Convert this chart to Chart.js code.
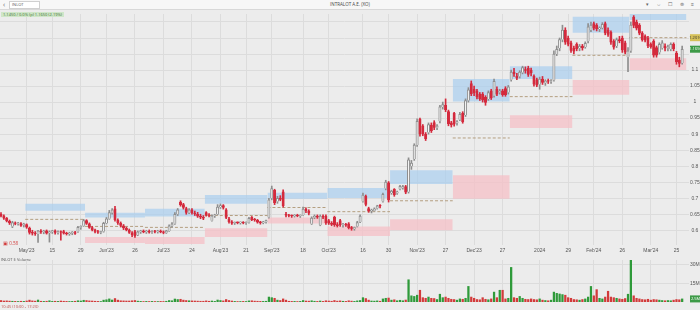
<!DOCTYPE html>
<html>
<head>
<meta charset="utf-8">
<script src="https://cdn.jsdelivr.net/npm/chart.js@4.4.1/dist/chart.umd.min.js"></script>
<style>
	body { margin: 0; background: #ececec; font-family: 'Open Sans', 'Liberation Sans', Arial, sans-serif; }
	#wrap { position: relative; width: 700px; height: 310px; overflow: hidden; background: #ececec; }
	#top { position: absolute; left: 0; top: 0; width: 700px; height: 9px; background: #f7f7f7; border-bottom: 1px solid #d8d8d8; }
	#top .back { position: absolute; left: 3px; top: 0; font-size: 7px; line-height: 9px; color: #666; }
	#top .search { position: absolute; left: 9px; top: 1px; width: 27px; height: 6px; background: #fff; border: 1px solid #d0d0d0; font-size: 4px; line-height: 6px; color: #555; padding-left: 2px; box-sizing: content-box; }
	#top .title { position: absolute; left: 0; width: 700px; top: 0; text-align: center; font-size: 4.5px; line-height: 9px; color: #444; }
	#top .icons { position: absolute; right: 3px; top: 0; font-size: 5px; line-height: 9px; color: #666; letter-spacing: 3px; }
	#info { position: absolute; left: 1px; top: 12px; height: 5px; padding: 0 2px; background: #cfe6c8; font-size: 4px; line-height: 5px; color: #3b6e31; }
	#vlabel { position: absolute; left: 1px; top: 257px; font-size: 4px; line-height: 5px; color: #555; }
	#mark { position: absolute; left: 3px; top: 240px; font-size: 4.5px; line-height: 6px; color: #d23b3b; }
	#foot { position: absolute; left: 1px; top: 304px; font-size: 4px; line-height: 5px; color: #c0504d; }
	canvas { position: absolute; left: 0; }
	#price { top: 10px; }
	#vol { top: 256px; }
</style>
</head>
<body>
<div id="wrap">
	<div id="top">
		<span class="back">&#8249;</span>
		<div class="search">INLOT</div>
		<div class="title">INTRALOT A.E. (XO)</div>
		<div class="icons">&#9662; &#8660; &#9744; &#8860; &#8801;</div>
	</div>
	<canvas id="price" width="700" height="248"></canvas>
	<canvas id="vol" width="700" height="50"></canvas>
	<div id="info">1.1450 / 0.0% (p) 1.1650 (2.19%)</div>
	<div id="mark">&#9635; 0.58</div>
	<div id="vlabel">INLOT &#36; Volume</div>
	<div id="foot">10:45 (10:00 - 17:20)</div>
</div>
<script>
// daily candles, May'23 .. Mar'24
const opens = [
	.650,.645,.637,.628,.612,.623,.620,.621,.616,.618, .607,.594,.590,.588,.597,.594,.598,.592,.595,.598,
	.592,.594,.596,.590,.588,.591,.593,.595,.609,.614, .630,.620,.608,.601,.596,.593,.596,.622,.636,.655,
	.667,.632,.622,.614,.606,.600,.592,.596,.585,.595, .597,.594,.597,.593,.596,.595,.597,.594,.592,.598,
	.614,.620,.650,.688,.680,.668,.655,.664,.654,.650, .644,.640,.655,.647,.630,.645,.650,.672,.677,.664,
	.636,.626,.622,.624,.623,.624,.622,.624,.640,.634, .631,.625,.623,.626,.640,.700,.725,.690,.700,.720,
	.650,.646,.645,.644,.646,.644,.648,.666,.660,.620, .640,.644,.616,.644,.644,.630,.622,.640,.618,.630,
	.616,.618,.620,.607,.605,.612,.626,.690,.706,.668, .660,.662,.668,.676,.690,.730,.748,.716,.728,.716,
	.728,.732,.736,.720,.800,.822,.866,.946,.926,.900, .905,.928,.936,.920,.940,.985,.990,.970,.935,.965,
	.935,.945,.965,.960,1.005,1.058,1.040,1.035,1.025,1.025, 1.015,1.010,1.035,1.020,1.040,1.030,1.035,1.042,1.030,1.070,
	1.094,1.080,1.080,1.092,1.100,1.105,1.100,1.080,1.070,1.055, 1.072,1.060,1.066,1.064,1.068,1.150,1.168,1.195,1.225,1.200,
	1.185,1.168,1.180,1.168,1.175,1.172,1.190,1.225,1.245,1.240, 1.228,1.232,1.245,1.225,1.218,1.190,1.175,1.195,1.200,1.185,
	1.140,1.160,1.265,1.250,1.240,1.215,1.205,1.200,1.180,1.190, 1.170,1.155,1.168,1.175,1.168,1.165,1.180,1.152,1.130,1.122
];
const highs = [
	.655,.648,.640,.632,.628,.626,.625,.624,.622,.620, .610,.600,.596,.600,.602,.600,.601,.598,.600,.601,
	.598,.598,.600,.594,.594,.596,.597,.612,.614,.634, .633,.623,.612,.604,.600,.597,.625,.640,.662,.668,
	.675,.636,.626,.618,.610,.604,.596,.600,.598,.600, .601,.600,.601,.599,.600,.600,.601,.598,.600,.617,
	.624,.655,.668,.692,.684,.672,.668,.668,.660,.656, .650,.646,.658,.652,.648,.650,.680,.682,.680,.668,
	.640,.630,.626,.626,.626,.627,.626,.640,.643,.637, .634,.628,.628,.632,.700,.738,.728,.706,.708,.726,
	.656,.650,.648,.649,.650,.648,.672,.670,.664,.642, .648,.648,.648,.648,.648,.634,.627,.644,.624,.634,
	.622,.622,.624,.612,.610,.628,.648,.716,.710,.672, .666,.670,.678,.680,.716,.756,.752,.725,.730,.722,
	.740,.740,.740,.826,.818,.870,.948,.950,.930,.905, .935,.935,.942,.930,.990,1.000,1.010,.975,.940,.968,
	.942,.968,.970,1.010,1.045,1.066,1.050,1.040,1.030,1.030, 1.020,1.035,1.040,1.072,1.048,1.040,1.040,1.048,1.052,1.100,
	1.105,1.090,1.098,1.112,1.110,1.112,1.106,1.085,1.075,1.078, 1.080,1.070,1.072,1.070,1.160,1.175,1.200,1.240,1.232,1.206,
	1.190,1.175,1.185,1.180,1.180,1.188,1.245,1.250,1.250,1.245, 1.235,1.248,1.250,1.232,1.222,1.195,1.200,1.205,1.206,1.190,
	1.170,1.250,1.270,1.256,1.245,1.220,1.210,1.205,1.185,1.195, 1.175,1.185,1.192,1.182,1.178,1.185,1.185,1.158,1.140,1.175
];
const lows = [
	.642,.634,.626,.618,.608,.617,.616,.612,.610,.606, .588,.585,.584,.562,.590,.589,.588,.563,.590,.588,
	.588,.569,.588,.585,.584,.586,.587,.593,.603,.612, .618,.606,.598,.592,.590,.589,.594,.620,.634,.650,
	.628,.618,.610,.602,.598,.590,.580,.578,.583,.590, .592,.590,.591,.590,.592,.591,.592,.589,.590,.596,
	.610,.618,.646,.675,.666,.650,.652,.650,.646,.640, .636,.633,.644,.642,.628,.640,.648,.668,.666,.636,
	.622,.618,.618,.620,.619,.620,.618,.622,.630,.628, .622,.619,.620,.622,.638,.695,.680,.684,.692,.672,
	.642,.642,.640,.641,.642,.640,.646,.655,.648,.618, .636,.637,.614,.636,.618,.618,.614,.612,.610,.612,
	.610,.612,.604,.600,.600,.610,.624,.688,.676,.656, .654,.660,.666,.670,.688,.726,.688,.712,.706,.712,
	.726,.728,.714,.716,.790,.818,.862,.894,.895,.880, .900,.905,.914,.914,.935,.978,.970,.926,.922,.925,
	.928,.942,.934,.955,1.000,1.020,1.020,1.010,1.005,1.000, .990,1.005,1.008,1.015,1.020,1.025,1.018,1.018,1.025,1.065,
	1.080,1.070,1.075,1.088,1.090,1.080,1.082,1.050,1.048,1.040, 1.055,1.052,1.058,1.058,1.065,1.145,1.160,1.188,1.180,1.175,
	1.155,1.150,1.160,1.160,1.162,1.168,1.185,1.220,1.225,1.222, 1.220,1.228,1.210,1.205,1.180,1.165,1.170,1.185,1.155,1.150,
	1.095,1.155,1.232,1.225,1.210,1.190,1.188,1.170,1.168,1.140, 1.140,1.150,1.165,1.160,1.160,1.160,1.160,1.118,1.110,1.118
];
const closes = [
	.645,.637,.628,.622,.624,.620,.622,.615,.618,.609, .592,.590,.588,.598,.594,.596,.590,.595,.597,.592,
	.594,.593,.590,.588,.590,.593,.589,.609,.612,.630, .620,.608,.601,.596,.593,.594,.622,.636,.655,.664,
	.632,.622,.614,.606,.600,.592,.585,.582,.595,.597, .594,.597,.593,.596,.595,.597,.594,.592,.598,.614,
	.620,.650,.664,.678,.670,.655,.664,.654,.650,.644, .640,.637,.647,.645,.645,.646,.672,.677,.670,.639,
	.626,.621,.624,.623,.624,.622,.624,.637,.632,.631, .625,.623,.626,.630,.695,.730,.685,.700,.696,.676,
	.646,.645,.644,.646,.644,.645,.666,.660,.652,.638, .644,.640,.644,.640,.622,.621,.617,.616,.614,.616,
	.618,.615,.607,.605,.608,.624,.644,.710,.680,.660, .662,.667,.676,.675,.712,.750,.694,.722,.710,.720,
	.737,.736,.718,.820,.810,.866,.940,.900,.900,.885, .930,.910,.920,.926,.985,.992,.975,.932,.928,.930,
	.938,.962,.938,1.005,1.038,1.025,1.028,1.015,1.010,1.006, .998,1.030,1.012,1.065,1.024,1.035,1.022,1.022,1.048,1.094,
	1.088,1.075,1.094,1.108,1.098,1.085,1.090,1.055,1.052,1.072, 1.060,1.066,1.064,1.067,1.150,1.165,1.195,1.225,1.186,1.180,
	1.160,1.158,1.165,1.175,1.168,1.183,1.235,1.240,1.230,1.228, 1.232,1.243,1.215,1.210,1.186,1.170,1.195,1.190,1.162,1.155,
	1.160,1.240,1.238,1.230,1.215,1.194,1.192,1.175,1.172,1.145, 1.145,1.180,1.185,1.168,1.172,1.180,1.165,1.125,1.120,1.165
];
// volume, millions of shares
const volumes = [
	1.2,0.8,0.9,0.7,0.6,0.5,0.4,0.6,0.5,0.8, 1.5,0.9,0.7,1.6,0.6,0.5,0.6,1.0,0.5,0.6,
	0.5,0.8,0.6,0.5,0.4,0.5,0.6,1.0,0.8,1.4, 1.2,0.9,0.8,0.6,0.5,0.4,1.5,1.8,2.5,1.6,
	2.8,1.5,1.0,0.9,0.8,0.8,1.0,1.2,0.7,0.5, 0.4,0.5,0.4,0.5,0.4,0.4,0.5,0.4,0.6,1.2,
	1.0,2.4,2.0,2.2,1.5,1.2,1.0,0.9,0.8,0.7, 0.6,0.6,0.9,0.6,0.8,0.5,1.6,1.2,0.9,2.0,
	1.2,0.8,0.5,0.4,0.4,0.5,0.4,0.9,1.0,0.7, 0.6,0.5,0.5,0.6,4.0,3.5,3.0,1.5,1.2,2.5,
	1.5,0.6,0.5,0.5,0.4,0.5,1.2,0.8,0.7,1.0, 0.6,0.5,0.8,0.5,1.0,0.8,0.6,1.2,0.7,0.9,
	0.6,0.5,1.0,0.7,0.5,0.9,1.2,3.5,2.8,1.5, 0.8,0.7,0.9,0.6,2.5,3.0,3.2,1.5,1.8,1.0,
	1.4,1.0,1.6,18.0,5.0,4.5,5.5,9.5,3.5,3.0, 4.0,3.0,2.8,2.0,6.3,3.5,4.0,3.0,2.2,2.0,
	1.5,2.5,2.2,3.0,12.6,4.0,3.0,2.0,1.8,3.5, 2.2,1.8,2.5,8.0,3.5,9.5,9.5,2.5,3.0,28.0,
	3.5,3.0,4.5,3.0,2.2,2.0,2.5,2.0,1.8,2.5, 1.5,1.2,1.0,1.5,8.0,7.0,6.5,6.0,5.5,3.5,
	3.0,2.0,1.8,1.5,2.0,2.5,4.0,12.6,5.0,10.0, 3.0,2.5,4.0,8.7,4.0,3.5,3.0,2.5,2.2,2.8,
	6.3,34.0,5.0,3.0,2.5,2.0,1.8,2.2,1.5,2.0, 1.8,1.5,1.2,1.0,1.2,1.0,1.5,2.0,1.8,2.5
];

// date axis
const tickIdx = [9, 18, 28, 37, 47, 57, 67, 77, 86, 95, 106, 115, 127, 136, 146, 156, 166, 176, 189, 199, 208, 218, 228, 237];
const tickText = ["May'23", '15', '29', "Jun'23", '26', "Jul'23", '24', "Aug'23", '21', "Sep'23", '18', "Oct'23", '16', '30', "Nov'23", '27', "Dec'23", '27', '2024', '29', "Feb'24", '26', "Mar'24", '25'];
const priceTicks = [0.6, 0.65, 0.7, 0.75, 0.8, 0.85, 0.9, 0.95, 1, 1.05, 1.1, 1.15, 1.2, 1.25];
const volTicks = [15, 30];

// monthly range boxes (candle index range, price levels)
const zoneStart = [9, 30, 51, 72, 94, 115, 137, 159, 179, 201, 221];
const zoneEnd   = [30, 51, 72, 94, 115, 137, 159, 179, 201, 221, 241];
const blueTop = [.683, .655, .667, .710, .717, .732, .787, 1.072, 1.112, 1.266, 1.275];
const blueBot = [.661, .640, .643, .683, .698, .701, .744, 1.002, 1.072, 1.216, 1.256];
const midLine = [.634, .612, .609, .646, .671, .658, .692, .888, 1.017, 1.146, 1.201];
const pinkTop = [.548, .579, .579, .606, .640, .612, .634, .772, .959, 1.069, 1.137];
const pinkBot = [.535, .560, .557, .579, .621, .582, .600, .698, .919, 1.023, 1.100];

const idx = closes.map((c, i) => i);
const isUp = idx.map(i => closes[i] >= opens[i]);
const UP_LINE = '#8e8e8e', UP_FILL = '#f6f6f6', DOWN = '#d42a3d';
const GRID = '#dcdcdc';
const X_MIN = -0.35, X_MAX = 241.4;

const zoneSets = [];
zoneStart.forEach((s, k) => {
	const a = s - 0.5, b = zoneEnd[k] - 0.5;
	const edge = { type: 'line', borderWidth: 0, pointRadius: 0, order: 6 };
	zoneSets.push({ ...edge, data: [{ x: a, y: blueTop[k] }, { x: b, y: blueTop[k] }], fill: false });
	zoneSets.push({ ...edge, data: [{ x: a, y: blueBot[k] }, { x: b, y: blueBot[k] }], fill: '-1', backgroundColor: 'rgba(164,204,240,0.65)' });
	zoneSets.push({ ...edge, data: [{ x: a, y: pinkTop[k] }, { x: b, y: pinkTop[k] }], fill: false });
	zoneSets.push({ ...edge, data: [{ x: a, y: pinkBot[k] }, { x: b, y: pinkBot[k] }], fill: '-1', backgroundColor: 'rgba(246,190,196,0.7)' });
	zoneSets.push({ type: 'line', data: [{ x: a, y: midLine[k] }, { x: b, y: midLine[k] }], borderColor: '#b49f80', borderWidth: 1, borderDash: [3, 2], pointRadius: 0, fill: false, order: 5 });
});

function tag(ctx, area, y, text, bg, fg) {
	ctx.save();
	ctx.fillStyle = bg;
	ctx.fillRect(area.right + 1, y - 3.5, 11, 7);
	ctx.fillStyle = fg;
	ctx.font = '4px "Open Sans", Arial';
	ctx.textAlign = 'center';
	ctx.textBaseline = 'middle';
	ctx.fillText(text, area.right + 6.5, y);
	ctx.restore();
}

const priceTags = {
	id: 'priceTags',
	afterDraw(chart) {
		const y = chart.scales.y, last = closes.length - 1;
		tag(chart.ctx, chart.chartArea, y.getPixelForValue(midLine[midLine.length - 1]), midLine[midLine.length - 1].toFixed(4), '#d6c15a', '#333');
		tag(chart.ctx, chart.chartArea, y.getPixelForValue(closes[last]), closes[last].toFixed(4), '#3d9a47', '#fff');
	}
};

const volTag = {
	id: 'volTag',
	afterDraw(chart) {
		const y = chart.scales.y, last = volumes.length - 1;
		tag(chart.ctx, chart.chartArea, Math.min(y.getPixelForValue(volumes[last]), chart.chartArea.bottom - 3), volumes[last].toFixed(1) + 'M', '#3d9a47', '#fff');
	}
};

const xGrid = {
	type: 'linear', min: X_MIN, max: X_MAX, offset: false,
	afterBuildTicks: s => { s.ticks = tickIdx.map(v => ({ value: v })); },
	grid: { color: GRID, drawTicks: false, offset: false },
	border: { display: false }
};

new Chart(document.getElementById('price'), {
	type: 'bar',
	data: {
		datasets: [
			{
				data: idx.map(i => ({ x: i, y: [opens[i], closes[i]] })),
				backgroundColor: idx.map(i => isUp[i] ? UP_FILL : DOWN),
				borderColor: idx.map(i => isUp[i] ? UP_LINE : DOWN),
				borderWidth: 1,
				barThickness: 2.4,
				minBarLength: 1,
				grouped: false,
				order: 0
			},
			{
				data: idx.map(i => ({ x: i, y: [lows[i], highs[i]] })),
				backgroundColor: idx.map(i => isUp[i] ? UP_LINE : DOWN),
				barThickness: 1,
				grouped: false,
				order: 1
			},
			...zoneSets
		]
	},
	options: {
		responsive: false,
		animation: false,
		layout: { padding: 0 },
		plugins: { legend: { display: false }, tooltip: { enabled: false } },
		scales: {
			x: {
				...xGrid,
				ticks: { callback: (v, i) => tickText[i], font: { size: 5 }, color: '#555', maxRotation: 0, autoSkip: false, padding: 3 },
				afterFit: s => { s.height = 13; }
			},
			y: {
				type: 'linear', position: 'right', min: 0.554, max: 1.2749,
				afterBuildTicks: s => { s.ticks = priceTicks.map(v => ({ value: v })); },
				ticks: { callback: v => v > 1.12 ? '' : String(+v.toFixed(2)), font: { size: 5 }, color: '#555', padding: 1, crossAlign: 'center' },
				grid: { color: GRID, drawTicks: false },
				border: { display: false },
				afterFit: s => { s.width = 11; }
			}
		}
	},
	plugins: [priceTags]
});

new Chart(document.getElementById('vol'), {
	type: 'bar',
	data: {
		datasets: [{
			data: idx.map(i => ({ x: i, y: volumes[i] })),
			backgroundColor: idx.map(i => isUp[i] ? '#2f9a3a' : '#d23b3b'),
			barThickness: 1.6,
			grouped: false
		}]
	},
	options: {
		responsive: false,
		animation: false,
		layout: { padding: { top: 2, bottom: 4 } },
		plugins: { legend: { display: false }, tooltip: { enabled: false } },
		scales: {
			x: {
				...xGrid,
				ticks: { display: false },
				afterFit: s => { s.height = 0; }
			},
			y: {
				type: 'linear', position: 'right', min: 0, max: 34,
				afterBuildTicks: s => { s.ticks = volTicks.map(v => ({ value: v })); },
				ticks: { callback: v => v + 'M', font: { size: 5 }, color: '#555', padding: 1, crossAlign: 'center' },
				grid: { color: GRID, drawTicks: false },
				border: { display: false },
				afterFit: s => { s.width = 11; }
			}
		}
	},
	plugins: [volTag]
});
</script>
</body>
</html>
